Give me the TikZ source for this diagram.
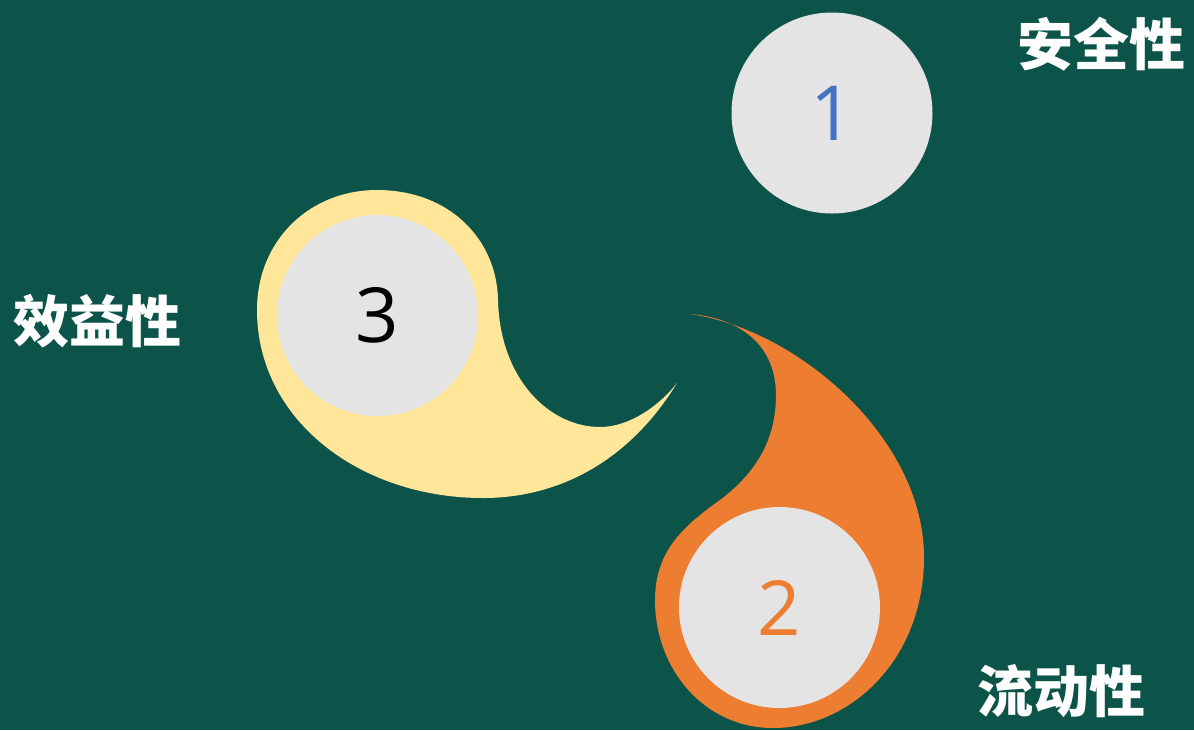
\documentclass[tikz,border=0pt]{standalone}
\usepackage{fontspec}
\setmainfont{Open Sans}
\newfontfamily\cjk{Noto Sans CJK SC}
\definecolor{bg}{RGB}{12,84,73}
\definecolor{disc}{RGB}{228,228,228}
\definecolor{sand}{RGB}{255,230,153}
\definecolor{flame}{RGB}{237,125,49}
\definecolor{numblue}{RGB}{68,114,196}
\tikzset{
  disk/.style={circle,fill=disc,minimum size=100.5pt,inner sep=0pt,font=\fontsize{38pt}{38pt}\selectfont},
  label/.style={text=white,inner sep=0pt,font=\cjk\bfseries\fontsize{28pt}{28pt}\selectfont}
}
\begin{document}
\begin{tikzpicture}[x=0.5pt,y=-0.5pt]
\fill[bg] (0,0) rectangle (1194,730);
\useasboundingbox (0,0) rectangle (1194,730);
% yellow teardrop
\fill[sand] (677,383) .. controls (630,460) and (560,498) .. (483,498)
  .. controls (360,498) and (257,420) .. (257,310)
  .. controls (257,240) and (310,190) .. (377,190)
  .. controls (450,190) and (497,240) .. (498,300)
  .. controls (500,380) and (550,427) .. (600,427)
  .. controls (630,427) and (660,405) .. (677,383) -- cycle;
% orange teardrop
\fill[flame] (690,314) .. controls (800,330) and (924,440) .. (924,557)
  .. controls (924,660) and (850,728) .. (773,728)
  .. controls (705,728) and (655,670) .. (655,600)
  .. controls (655,550) and (685,525) .. (720,500)
  .. controls (760,470) and (776,435) .. (776,395)
  .. controls (776,345) and (740,318) .. (690,314) -- cycle;
\node[disk,text=numblue] (c1) at (832,113) {1};
\node[disk,text=black] (c3) at (377.5,315.5) {3};
\node[disk,text=flame] (c2) at (779.5,607.5) {2};
\node[label] (l1) at (1101,44) {安全性};
\node[label] (l3) at (97,321) {效益性};
\node[label] (l2) at (1061,691) {流动性};
\end{tikzpicture}
\end{document}
